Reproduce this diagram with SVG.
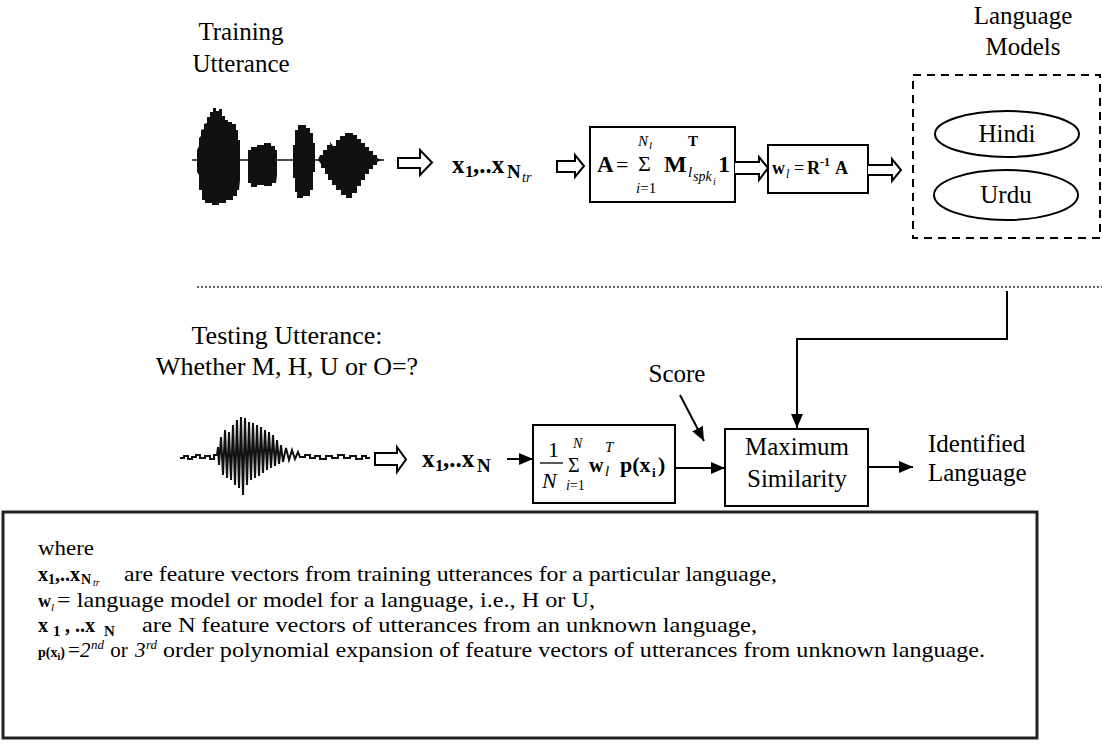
<svg xmlns="http://www.w3.org/2000/svg" width="1102" height="747" viewBox="0 0 1102 747" font-family="'Liberation Serif', 'DejaVu Serif', serif">
<style>
text, tspan {font-family:'Liberation Serif','DejaVu Serif',serif}
.t{fill:#000}
.b{font-weight:bold}
.i{font-style:italic}
.n{font-weight:normal}
.box{fill:#fff;stroke:#000;stroke-width:2}
.ha{fill:#fff;stroke:#000;stroke-width:2;stroke-linejoin:miter}
.ln{fill:none;stroke:#000;stroke-width:2}
.wave{fill:#111;stroke:none}
</style>
<defs>
<marker id="ah" markerUnits="userSpaceOnUse" markerWidth="14" markerHeight="12" refX="14" refY="6" orient="auto">
<path d="M0,0 L14,6 L0,12 Z" fill="#000"/>
</marker>
</defs>
<rect width="1102" height="747" fill="#fff"/>

<g id="training-label" class="t" font-size="25" text-anchor="middle">
<text x="241" y="40">Training</text>
<text x="241" y="72">Utterance</text>
</g>

<g id="training-wave">
<line x1="192" y1="160" x2="384" y2="160" stroke="#111" stroke-width="1.5"/>
<path class="wave" d="M197,160 L197,150 L199,146 L199,138 L201,136 L201,130 L204,129 L204,124 L207,123 L207,117 L210,117 L210,112 L213,112 L213,108 L216,108 L216,111 L219,111 L219,109 L222,109 L222,116 L225,116 L225,120 L228,120 L228,122 L232,122 L232,124 L236,124 L236,130 L238,130 L238,140 L240,140 L240,180 L239,190 L237,190 L237,196 L233,196 L233,200 L226,200 L226,203 L219,203 L219,205 L212,205 L212,203 L205,203 L205,200 L202,200 L202,190 L199,190 L199,175 L197,172 Z"/>
<path class="wave" d="M248,160 L248,150 L251,150 L251,147 L257,147 L257,145 L264,145 L264,143 L271,143 L271,146 L275,146 L275,150 L277,150 L277,175 L276,183 L272,183 L272,186 L264,186 L264,185 L257,185 L257,187 L251,187 L251,183 L248,183 Z"/>
<path class="wave" d="M293,160 L293,145 L295,145 L295,130 L298,130 L298,125 L306,125 L306,128 L310,128 L310,133 L313,133 L313,143 L315,143 L315,172 L313,172 L313,190 L310,190 L310,196 L303,196 L303,198 L297,198 L297,192 L295,192 L295,178 L293,178 Z"/>
<path class="wave" d="M318,160 L320,155 L323,155 L323,150 L327,150 L327,145 L330,145 L330,142 L333,146 L336,146 L336,140 L340,140 L340,136 L345,136 L345,133 L353,133 L353,135 L357,135 L357,139 L361,139 L361,143 L365,143 L365,147 L369,147 L369,151 L373,151 L373,155 L377,155 L377,158 L382,160 L377,162 L377,165 L373,165 L373,169 L369,169 L369,174 L365,174 L365,180 L361,180 L361,186 L357,186 L357,193 L352,193 L352,198 L346,198 L346,195 L341,195 L341,190 L336,190 L336,185 L332,185 L332,180 L328,180 L328,174 L325,174 L325,168 L321,168 L321,164 Z"/>
</g>

<g id="train-features" class="t b">
<text y="173" font-size="25"><tspan x="452">x</tspan><tspan x="465" y="177" font-size="17">1</tspan><tspan x="473" y="173">,..x</tspan><tspan x="507" y="178" font-size="19">N</tspan><tspan x="522" y="182" font-size="14" class="n i">tr</tspan></text>
</g>

<g id="box-A">
<rect class="box" x="590" y="127" width="145" height="75"/>
<text class="t b" x="597" y="172" font-size="23">A</text>
<text class="t" x="616" y="172" font-size="22">=</text>
<text class="t" x="638" y="171" font-size="22">Σ</text>
<text class="t i" x="638" y="146" font-size="15">N<tspan x="649" y="149" font-size="11">l</tspan></text>
<text class="t" x="636" y="193" font-size="15"><tspan class="i">i</tspan>=1</text>
<text class="t b" x="664" y="172" font-size="24">M</text>
<text class="t b" x="688" y="146" font-size="15">T</text>
<text class="t i" x="688" y="177" font-size="15">l<tspan x="693" y="181" font-size="14">spk</tspan><tspan x="713" y="185" font-size="10">i</tspan></text>
<text class="t b" x="718" y="172" font-size="24">1</text>
</g>

<g id="box-w">
<rect class="box" x="768" y="145" width="100" height="48"/>
<text class="t b" x="772" y="174" font-size="18">w</text>
<text class="t i" x="786" y="178" font-size="12">l</text>
<text class="t" x="794" y="174" font-size="18">=</text>
<text class="t b" x="807" y="174" font-size="18">R</text>
<text class="t b" x="820" y="166" font-size="12">-1</text>
<text class="t b" x="835" y="174" font-size="18">A</text>
</g>

<g id="language-models">
<rect x="913" y="75" width="187" height="163" fill="none" stroke="#000" stroke-width="2" stroke-dasharray="8 6"/>
<g class="t" font-size="25" text-anchor="middle">
<text x="1023" y="24">Language</text>
<text x="1023" y="55">Models</text>
</g>
</g>
<g id="hindi">
<ellipse cx="1007" cy="134" rx="72" ry="23" fill="#fff" stroke="#000" stroke-width="2"/>
<text class="t" x="1007" y="142" font-size="25" text-anchor="middle">Hindi</text>
</g>
<g id="urdu">
<ellipse cx="1006" cy="195" rx="72" ry="25" fill="#fff" stroke="#000" stroke-width="2"/>
<text class="t" x="1006" y="203" font-size="25" text-anchor="middle">Urdu</text>
</g>

<g id="separator">
<line x1="197" y1="287" x2="1102" y2="287" stroke="#333" stroke-width="1.5" stroke-dasharray="2 2"/>
</g>

<g id="testing-label" class="t" font-size="26" text-anchor="middle">
<text x="287" y="344">Testing Utterance:</text>
<text x="287" y="375">Whether M, H, U or O=?</text>
</g>

<g id="testing-wave">
<polyline fill="none" stroke="#111" stroke-width="2" stroke-linejoin="miter" points="180,458 184,458 184,456 188,456 188,459 192,459 192,457 196,457 196,455 200,455 200,458 205,458 205,456 210,456 210,459 214,459 214,455 217,455 218,447 219,465 221,437 223,475 225,430 227,478 229,432 231,480 233,425 235,485 237,420 239,488 241,417 243,495 245,418 247,485 249,422 251,480 253,423 255,478 257,425 259,476 261,427 263,473 265,430 267,470 269,432 271,468 273,435 275,466 277,440 279,464 281,445 283,462 286,448 289,460 292,450 295,459 298,452 300,457 305,457 305,455 310,455 310,458 315,458 315,456 320,456 320,459 326,459 326,456 332,456 332,458 338,458 338,455 344,455 344,458 350,458 350,456 356,456 356,459 362,459 362,456 366,456 366,458 370,458"/>
</g>

<g id="test-features" class="t b">
<text y="467" font-size="25"><tspan x="422">x</tspan><tspan x="435" y="471" font-size="17">1</tspan><tspan x="443" y="467">,..x</tspan><tspan x="477" y="472" font-size="19">N</tspan></text>
</g>

<g id="box-score">
<rect class="box" x="533" y="425" width="142" height="78"/>
<text class="t" x="548" y="457" font-size="22">1</text>
<line x1="540" y1="463" x2="563" y2="463" stroke="#000" stroke-width="1.3"/>
<text class="t i" x="542" y="488" font-size="22">N</text>
<text class="t" x="568" y="472" font-size="20">Σ</text>
<text class="t i" x="573" y="448" font-size="14">N</text>
<text class="t" x="566" y="490" font-size="14"><tspan class="i">i</tspan>=1</text>
<text class="t b" x="589" y="472" font-size="20">w</text>
<text class="t i" x="605" y="452" font-size="15">T</text>
<text class="t i" x="605" y="476" font-size="15">l</text>
<text class="t b" x="620" y="472" font-size="22">p(x</text>
<text class="t b" x="652" y="477" font-size="13">i</text>
<text class="t b" x="658" y="472" font-size="22">)</text>
</g>

<g id="score-label">
<text class="t" x="677" y="382" font-size="25" text-anchor="middle">Score</text>
</g>

<g id="max-similarity">
<rect class="box" x="725" y="429" width="143" height="77"/>
<g class="t" font-size="25" text-anchor="middle">
<text x="797" y="455">Maximum</text>
<text x="797" y="487">Similarity</text>
</g>
</g>

<g id="identified-language" class="t" font-size="25">
<text x="928" y="452">Identified</text>
<text x="928" y="481">Language</text>
</g>

<g id="connectors">
<path class="ha" d="M398,158 H420 V150 L432,162.5 L420,175 V168 H398 Z"/>
<path class="ha" d="M557,161 H575 V155 L584,166 L575,177 V172 H557 Z"/>
<path class="ha" d="M735,162 H759 V157 L768,168 L759,180 V174 H735"/>
<path class="ha" d="M868,165 H892 V159 L901,170 L892,181 V175 H868"/>
<path class="ha" d="M375,453 H397 V447 L406,459.5 L397,472 V465 H375 Z"/>
<path class="ln" d="M1007,291 V339 H797 V428" marker-end="url(#ah)"/>
<line class="ln" x1="507" y1="459" x2="533" y2="459" marker-end="url(#ah)"/>
<line class="ln" x1="675" y1="468" x2="725" y2="468" marker-end="url(#ah)"/>
<line class="ln" x1="680" y1="395" x2="704" y2="441" marker-end="url(#ah)"/>
<line class="ln" x1="868" y1="467" x2="913" y2="467" marker-end="url(#ah)"/>
</g>

<g id="legend">
<rect x="3" y="512" width="1034" height="226" fill="none" stroke="#222" stroke-width="3"/>
<text class="t" x="38" y="555" font-size="21" textLength="56" lengthAdjust="spacingAndGlyphs">where</text>
<text class="t b" y="581" font-size="20"><tspan x="38">x</tspan><tspan x="48" y="584" font-size="14">1</tspan><tspan x="55" y="581">,..x</tspan><tspan x="81" y="584" font-size="14">N</tspan><tspan x="93" y="586" font-size="10" class="n i">tr</tspan></text>
<text class="t" x="124" y="581" font-size="21" textLength="653" lengthAdjust="spacingAndGlyphs">are feature vectors from training utterances for a particular language,</text>
<text class="t b" x="38" y="607" font-size="18">w</text>
<text class="t i" x="51" y="611" font-size="11">l</text>
<text class="t" x="57" y="607" font-size="21" textLength="538" lengthAdjust="spacingAndGlyphs">= language model or model for a language, i.e., H or U,</text>
<text class="t b" y="632" font-size="20"><tspan x="38">x</tspan><tspan x="53" y="636" font-size="15">1</tspan><tspan x="65" y="632">, ..x</tspan><tspan x="104" y="636" font-size="15">N</tspan></text>
<text class="t" x="142" y="632" font-size="21" textLength="615" lengthAdjust="spacingAndGlyphs">are N feature vectors of utterances from  an unknown language,</text>
<text class="t b" x="38" y="657" font-size="14">p(x<tspan font-size="10" dy="3">i</tspan><tspan dy="-3">)</tspan></text>
<text class="t" y="657" font-size="21"><tspan x="68">=</tspan><tspan class="i" x="80">2</tspan><tspan class="i" x="91" y="649" font-size="13">nd</tspan><tspan x="105" y="657"> or </tspan><tspan class="i" x="135">3</tspan><tspan class="i" x="146" y="649" font-size="13">rd</tspan></text>
<text class="t" x="163" y="657" font-size="21" textLength="822" lengthAdjust="spacingAndGlyphs">order polynomial expansion of feature vectors of utterances from unknown language.</text>
</g>
</svg>
